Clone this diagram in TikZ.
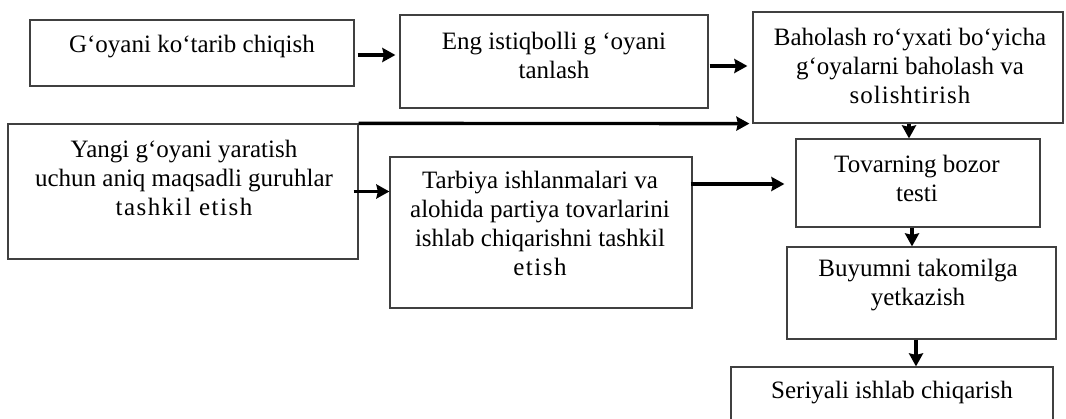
\documentclass[tikz,border=0pt]{standalone}
\usepackage{fontspec}
\setmainfont{Liberation Serif}
\usetikzlibrary{arrows.meta,calc}
\newcommand{\spacedtext}[2][6]{{\addfontfeatures{LetterSpace=#1}#2}}
\begin{document}
\begin{tikzpicture}[x=1pt,y=-1pt,
  box/.style={draw=black!75, line width=1.2pt, inner sep=0pt},
  txt/.style={inner sep=0pt, align=center, font=\fontsize{25}{29}\selectfont},
  arr/.style={line width=3.4pt, -{Stealth[length=13pt,width=14pt,inset=1.5pt]}}]
\useasboundingbox (0,0) rectangle (1066,419);
\clip (0,0) rectangle (1066,419);
% boxes
\node[box, minimum width=324pt, minimum height=66pt]  (b1) at (192,53) {};
\node[box, minimum width=308pt, minimum height=93pt]  (b2) at (554,61.5) {};
\node[box, minimum width=310pt, minimum height=111pt] (b3) at (908,67.5) {};
\node[box, minimum width=350pt, minimum height=135pt] (b4) at (183,191.5) {};
\node[box, minimum width=302pt, minimum height=151pt] (b5) at (541,232.5) {};
\node[box, minimum width=244pt, minimum height=88pt]  (b6) at (918,183) {};
\node[box, minimum width=269pt, minimum height=92pt]  (b7) at (921.5,293) {};
\node[box, minimum width=322pt, minimum height=70pt]  (b8) at (892,402) {};
% texts
\node[txt] (t1) at (192,47) {G‘oyani ko‘tarib chiqish};
\node[txt] (t2) at (554,55) {Eng istiqbolli g ‘oyani\\tanlash};
\node[txt] (t3) at (910,66) {Baholash ro‘yxati bo‘yicha\\g‘oyalarni baholash va\\\spacedtext[4]{solishtirish}};
\node[txt] (t4) at (184,177.5) {Yangi g‘oyani yaratish\\uchun aniq maqsadli guruhlar\\\spacedtext{tashkil etish}};
\node[txt] (t5) at (540,223) {Tarbiya ishlanmalari va\\alohida partiya tovarlarini\\ishlab chiqarishni tashkil\\\spacedtext{etish}};
\node[txt] (t6) at (917,178) {Tovarning bozor\\testi};
\node[txt] (t7) at (918,285) {Buyumni takomilga\\yetkazish};
\node[txt] (t8) at (892,393) {Seriyali ishlab chiqarish};
% connectors
\draw[arr] ($(b1.east)+(3,2)$) -- ($(b2.west |- b1.east)+(-4,2)$);
\draw[arr] ($(b2.east)+(1,4.5)$) -- ($(b3.west |- b2.east)+(-5,4.5)$);
\draw[arr] (b4.north east) -- ($(b3.south west)+(-3,0)$);
\draw[arr] ($(b4.east)+(-5,0)$) -- (b5.west |- b4.east);
\draw[arr] ($(b5.east |- b6.west)+(-2,1)$) -- ($(b6.west)+(-11,1)$);
\draw[arr] ($(b3.south)+(1,0)$) -- ($(b3.south |- b6.north)+(1,0)$);
\draw[arr] ($(b6.south)+(-6,0)$) -- ($(b6.south |- b7.north)+(-6,0)$);
\draw[arr] ($(b7.south)+(-5.5,0)$) -- ($(b7.south |- b8.north)+(-5.5,0)$);
\end{tikzpicture}
\end{document}
